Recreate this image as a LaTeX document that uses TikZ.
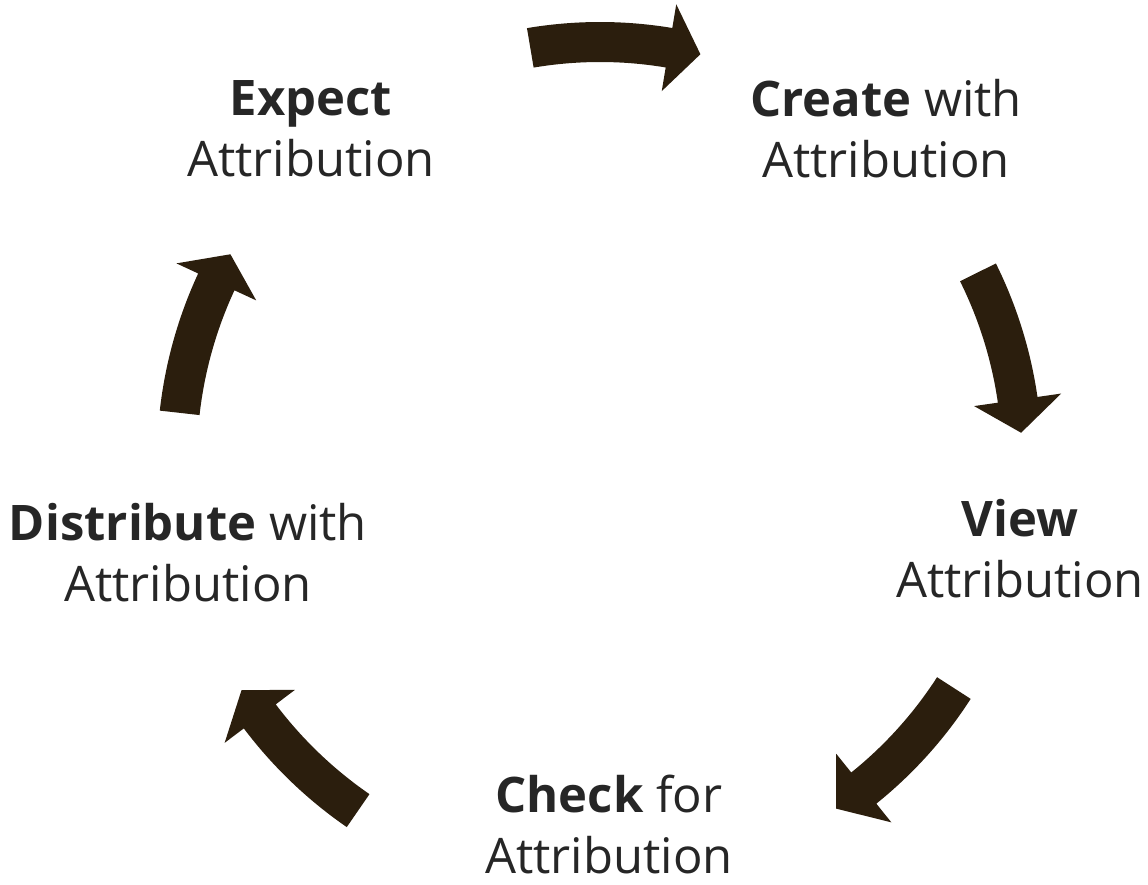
\documentclass[tikz,border=0pt]{standalone}
\usepackage{fontspec}
\setmainfont{Open Sans}
\definecolor{arrowbrown}{HTML}{2B1E0D}
\definecolor{textgray}{HTML}{262626}
\begin{document}
\begin{tikzpicture}[x=1pt,y=1pt,
  lbl/.style={align=center,text=textgray,inner sep=0,anchor=base,
    font=\fontsize{49}{61}\selectfont}]
\useasboundingbox(0,0)rectangle(1148,885);
\node[lbl](expect)at(311,708){\textbf{Expect}\\Attribution};
\node[lbl](create)at(886,707){\textbf{Create} with\\Attribution};
\node[lbl](view)at(1020,287){\textbf{View}\\Attribution};
\node[lbl](check)at(609,11){\textbf{Check} for\\Attribution};
\node[lbl](distribute)at(188,283){\textbf{Distribute} with\\Attribution};
% block arrows round the centre: tail/base/tip angle and radius
\begin{scope}[shift={(600,425)}]
\foreach \a/\b/\c/\r in {99.6/80.5/76.1/418,26.4/8.2/3.7/422,
  -32.8/-51.2/-55.9/421,-124.6/-143/-147.3/426,173.6/155.1/150.9/423}{
\fill[arrowbrown](\a:\r+20)arc[start angle=\a,end angle=\b,radius=\r+20]
  --(\b:\r+44)--(\c:\r)--(\b:\r-44)--(\b:\r-20)
  arc[start angle=\b,end angle=\a,radius=\r-20]--cycle;}
\end{scope}
\end{tikzpicture}
\end{document}
